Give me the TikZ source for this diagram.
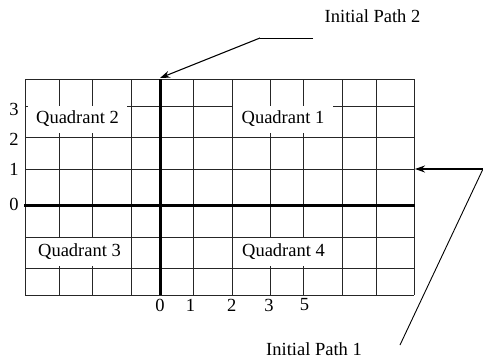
\documentclass[tikz,border=0pt]{standalone}
\usepackage{fontspec}
\setmainfont{Liberation Serif}
\usetikzlibrary{arrows.meta}
\begin{document}
\begin{tikzpicture}[x=1pt,y=-1pt,
  gridline/.style={line width=1pt, draw=black!85},
  axisline/.style={line width=3pt},
  lbl/.style={inner sep=0pt, font=\fontsize{18.5}{21}\selectfont},
  quad/.style={fill=white, inner xsep=6pt, inner ysep=0pt, font=\fontsize{18.5}{21}\selectfont},
  pointer/.style={line width=1.1pt, -{Stealth[length=10pt,width=7pt]}},
  leader/.style={line width=0.9pt}]
\useasboundingbox (0,0) rectangle (483,360);
% grid
\foreach \x in {25,59,92,131,193,232,270,303,342,376,414}
  \draw[gridline] (\x,79) -- (\x,295);
\foreach \y in {79,106,137,169,237,268,295}
  \draw[gridline] (25,\y) -- (414,\y);
% quadrant labels
\node[quad, minimum width=99pt, minimum height=27pt] (q2) at (77.5,119) {Quadrant 2};
\node[quad, minimum width=100pt, minimum height=27pt] (q1) at (283,119) {Quadrant 1};
\node[quad, minimum width=95pt, minimum height=28pt] (q3) at (79.5,252) {Quadrant 3};
\node[quad, minimum width=98pt, minimum height=28pt] (q4) at (283.5,252) {Quadrant 4};
% axes
\draw[axisline] (24,205) -- (415,205);
\draw[axisline] (160,79) -- (160,295);
% axis numbers
\node[lbl] (y3) at (14,109) {3};
\node[lbl] (y2) at (14,139) {2};
\node[lbl] (y1) at (14,169.5) {1};
\node[lbl] (y0) at (14,204.5) {0};
\node[lbl] (x0) at (160,305) {0};
\node[lbl] (x1) at (190.5,305) {1};
\node[lbl] (x2) at (231.7,305) {2};
\node[lbl] (x3) at (269,305) {3};
\node[lbl] (x5) at (304.5,305) {5};
% pointers
\coordinate (top) at (160,78);
\coordinate (rgt) at (415,169);
\coordinate (b2) at (260,38);
\coordinate (e2) at (313,38);
\coordinate (b1) at (483,169);
\coordinate (e1) at (400,345);
\node[lbl] (p2) at (372.5,16.5) {Initial Path 2};
\node[lbl] (p1) at (314,349) {Initial Path 1};
\draw[leader] (e2) -- (b2);
\draw[pointer] (b2) -- (top);
\draw[pointer] (b1) -- (rgt);
\draw[leader] (b1) -- (e1);
\end{tikzpicture}
\end{document}
